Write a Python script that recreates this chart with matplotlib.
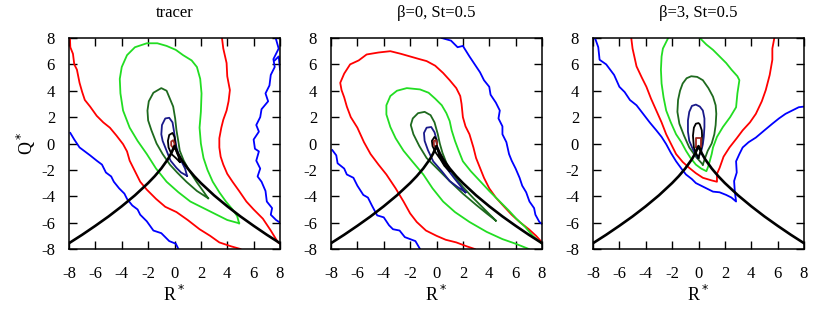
import numpy as np
import matplotlib.pyplot as plt

plt.rcParams['font.family'] = ['Liberation Serif', 'DejaVu Serif']
plt.rcParams['axes.unicode_minus'] = False

# colours of the PDF levels (outer -> inner)
c_blue = '#0000ff'
c_red = '#ff0000'
c_lgreen = '#22dd22'
c_dgreen = '#1e6a1e'
c_navy = '#1a1a8a'
c_black = '#000000'
c_brown = '#a02820'

titles = ['tracer', 'β=0, St=0.5', 'β=3, St=0.5']
ticks = [-8, -6, -4, -2, 0, 2, 4, 6, 8]

# Vieillefosse line, points (same in every panel)
vf_R = [-8, -7, -6, -5, -4, -3, -2, -1.5, -1, -0.5, -0.25, -0.1, 0,
        0.1, 0.25, 0.5, 1, 1.5, 2, 3, 4, 5, 6, 7, 8]
vf_Q = [-7.56, -6.92, -6.24, -5.53, -4.76, -3.93, -3.0, -2.48, -1.89, -1.19, -0.75, -0.41, -0.2,
        -0.41, -0.75, -1.19, -1.89, -2.48, -3.0, -3.93, -4.76, -5.53, -6.24, -6.92, -7.56]

# ---- tracer : contours read as (R*, Q*) points
tr_blue_l = [(-7.9, 0.8), (-7.6, 0.3), (-7.2, -0.3), (-6.8, -0.6), (-6.4, -0.9), (-5.9, -1.3),
             (-5.5, -1.6), (-5.2, -2.2), (-4.8, -2.5), (-4.6, -2.9), (-4.2, -3.4), (-3.8, -3.8),
             (-3.6, -4.2), (-3.2, -4.7), (-2.8, -5.0), (-2.6, -5.4), (-2.1, -5.9), (-1.6, -6.6),
             (-1.0, -6.8), (-0.4, -7.4), (0.1, -7.6), (0.3, -8.0)]
tr_blue_r = [(7.7, 7.9), (7.9, 7.2), (7.5, 6.4), (7.6, 5.8), (7.3, 5.2), (7.2, 4.4), (6.9, 3.8),
             (7.1, 3.2), (6.6, 2.6), (6.5, 2.0), (6.2, 1.4), (6.4, 0.9), (6.0, 0.3), (6.1, -0.4),
             (6.4, -0.6), (6.2, -1.3), (6.5, -1.9), (6.3, -2.5), (6.6, -2.9), (6.9, -3.6),
             (7.0, -4.4), (7.4, -4.9), (7.3, -5.4), (7.7, -5.8), (8.0, -6.0)]
tr_blue_r2 = [(7.6, 6.3), (7.9, 6.6), (8.0, 5.6)]
tr_red_l = [(-7.93, 8.0), (-7.9, 7.3), (-7.7, 6.8), (-7.6, 6.0), (-7.4, 5.6), (-7.2, 4.6),
            (-7.0, 3.9), (-6.8, 3.3), (-6.4, 2.8), (-5.9, 2.1), (-5.4, 1.6), (-4.9, 1.2),
            (-4.4, 0.6), (-3.9, -0.05), (-3.6, -0.6), (-3.4, -1.3), (-3.0, -2.1), (-2.6, -2.9),
            (-2.1, -3.5), (-1.4, -4.2), (-0.7, -4.8), (0.15, -5.2), (1.0, -5.8), (1.9, -6.5),
            (2.7, -7.0), (3.4, -7.5), (4.3, -7.8), (5.0, -8.0)]
tr_red_r = [(3.6, 8.0), (3.7, 7.2), (3.95, 6.1), (4.0, 5.1), (4.2, 4.05), (4.1, 3.2), (3.95, 2.5),
            (3.7, 1.8), (3.55, 1.2), (3.4, 0.4), (3.4, -0.3), (3.5, -1.0), (3.7, -1.6),
            (4.0, -2.3), (4.4, -2.9), (4.9, -3.6), (5.45, -4.4), (6.0, -5.0), (6.7, -5.7),
            (7.3, -6.6), (7.85, -7.5), (8.0, -7.6)]
tr_lgreen = [(4.9, -6.05), (4.0, -5.8), (3.2, -5.4), (2.2, -4.9), (1.2, -4.4), (0.3, -3.7),
             (-0.6, -2.9), (-1.4, -1.9), (-2.1, -0.8), (-2.8, 0.2), (-3.4, 1.2), (-3.9, 2.5),
             (-4.1, 3.8), (-4.15, 4.9), (-4.0, 5.8), (-3.6, 6.7), (-3.0, 7.3), (-2.1, 7.6),
             (-1.3, 7.6), (-0.6, 7.4), (0.1, 7.1), (0.65, 6.7), (1.3, 6.3), (1.7, 5.8),
             (1.95, 4.9), (2.05, 3.8), (2.0, 2.4), (1.9, 1.2), (2.0, 0.0), (2.2, -1.1),
             (2.5, -2.0), (2.9, -2.9), (3.4, -3.7), (3.9, -4.4), (4.4, -5.0), (4.75, -5.5),
             (4.9, -6.05)]
tr_dgreen = [(2.55, -4.15), (1.7, -3.6), (0.9, -2.9), (0.2, -2.2), (-0.35, -1.6), (-0.9, -0.8),
             (-1.36, 0.0), (-1.75, 1.0), (-2.0, 1.75), (-2.05, 2.5), (-1.95, 3.2), (-1.6, 3.85),
             (-1.0, 4.2), (-0.6, 4.0), (-0.35, 3.4), (-0.1, 2.8), (0.05, 1.9), (0.15, 1.0),
             (0.3, 0.1), (0.4, -0.55), (0.7, -1.3), (1.15, -2.1), (1.7, -2.95), (2.2, -3.65),
             (2.55, -4.15)]
tr_navy = [(0.95, -2.45), (0.5, -2.2), (0.15, -1.85), (-0.3, -1.3), (-0.6, -0.55), (-0.9, 0.2),
           (-1.0, 0.7), (-0.95, 1.4), (-0.7, 1.9), (-0.4, 1.95), (-0.15, 1.6), (-0.05, 1.0),
           (0.03, 0.45), (0.15, -0.3), (0.3, -0.8), (0.55, -1.4), (0.8, -1.9), (0.95, -2.45)]
tr_black = [(0.4, -1.4), (0.1, -1.1), (-0.23, -0.8), (-0.45, -0.3), (-0.5, 0.2), (-0.4, 0.65),
            (-0.15, 0.8), (0.0, 0.5), (0.05, 0.0), (0.15, -0.6), (0.3, -1.0), (0.4, -1.4)]
tr_brown = [(-0.05, -0.4), (-0.25, -0.15), (-0.25, 0.15), (-0.1, 0.25), (0.0, 0.0), (-0.05, -0.4)]

# ---- beta=0, St=0.5
b0_blue_l = [(-7.9, -0.5), (-7.6, -0.9), (-7.5, -1.5), (-7.0, -1.9), (-6.8, -2.35), (-6.3, -2.6),
             (-6.0, -3.2), (-5.55, -3.9), (-5.2, -4.1), (-4.9, -4.7), (-4.5, -5.45), (-4.0, -5.6),
             (-3.6, -6.2), (-3.3, -6.5), (-2.8, -6.6), (-2.4, -7.1), (-2.0, -7.25), (-1.6, -7.4),
             (-1.25, -8.0)]
b0_blue_r = [(0.4, 8.0), (1.1, 7.8), (1.6, 7.3), (2.0, 7.4), (2.5, 6.6), (3.0, 5.85), (3.3, 5.4),
             (3.6, 4.8), (4.0, 4.3), (4.1, 3.7), (4.5, 3.1), (4.8, 2.5), (4.7, 1.9), (5.0, 1.3),
             (5.0, 0.7), (5.3, 0.1), (5.5, -0.8), (5.7, -1.3), (6.0, -1.9), (6.3, -2.6),
             (6.5, -3.2), (6.8, -3.7), (7.05, -4.4), (7.4, -4.9), (7.5, -5.4), (7.8, -5.95),
             (8.0, -6.1)]
b0_red = [(2.9, -8.0), (2.3, -7.8), (1.5, -7.5), (0.7, -7.3), (0.0, -7.0), (-0.8, -6.6),
          (-1.5, -5.95), (-2.0, -5.3), (-2.5, -4.4), (-3.1, -3.4), (-3.8, -2.35), (-4.4, -1.6),
          (-5.0, -0.8), (-5.5, 0.1), (-6.0, 1.2), (-6.5, 2.0), (-6.8, 2.8), (-7.0, 3.5),
          (-7.2, 4.05), (-7.3, 4.6), (-7.0, 5.3), (-6.55, 6.0), (-5.9, 6.3), (-5.3, 6.75),
          (-4.4, 6.9), (-3.5, 7.0), (-2.7, 6.8), (-2.0, 6.6), (-1.3, 6.4), (-0.75, 6.25),
          (-0.1, 5.9), (0.5, 5.35), (1.0, 4.8), (1.5, 4.2), (1.8, 3.6), (1.9, 3.0), (2.0, 2.0),
          (2.2, 1.3), (2.5, 0.7), (2.8, -0.3), (3.0, -1.1), (3.3, -1.85), (3.6, -2.6),
          (4.0, -3.4), (4.5, -4.1), (5.0, -4.65), (5.7, -5.4), (6.3, -5.95), (7.0, -6.5),
          (7.55, -7.0), (8.0, -7.5)]
b0_lgreen = [(7.0, -8.0), (6.0, -7.6), (5.0, -7.25), (3.8, -6.7), (2.5, -5.95), (1.4, -5.2),
             (0.5, -4.4), (-0.3, -3.4), (-1.0, -2.35), (-1.8, -1.4), (-2.5, -0.55), (-3.1, 0.4),
             (-3.5, 1.25), (-3.8, 2.2), (-3.8, 2.9), (-3.5, 3.6), (-3.0, 4.0), (-2.25, 4.2),
             (-1.25, 4.1), (-0.6, 3.85), (-0.1, 3.4), (0.4, 2.9), (0.75, 2.3), (1.0, 1.7),
             (1.15, 1.0), (1.4, 0.2), (1.7, -0.6), (2.0, -1.35), (2.6, -2.1), (3.3, -2.85),
             (4.0, -3.6), (4.8, -4.4), (5.5, -5.1), (6.05, -5.7), (6.7, -6.3), (7.3, -7.0),
             (8.0, -7.6)]
b0_dgreen = [(4.5, -5.85), (3.8, -5.3), (3.0, -4.65), (2.0, -3.8), (1.0, -2.85), (0.1, -1.95),
             (-0.75, -1.1), (-1.3, -0.2), (-1.75, 0.7), (-1.95, 1.4), (-1.8, 1.9), (-1.4, 2.3),
             (-0.9, 2.4), (-0.45, 2.15), (-0.15, 1.6), (0.1, 0.7), (0.25, 0.0), (0.45, -0.7),
             (0.8, -1.6), (1.25, -2.35), (2.0, -3.3), (2.8, -4.15), (3.6, -4.95), (4.5, -5.85)]
b0_navy = [(2.2, -3.7), (1.6, -3.3), (1.0, -2.85), (0.4, -2.1), (-0.25, -1.35), (-0.65, -0.5),
           (-0.9, 0.2), (-0.95, 0.8), (-0.75, 1.2), (-0.4, 1.25), (-0.15, 0.85), (0.0, 0.3),
           (0.05, -0.3), (0.3, -1.1), (0.75, -1.85), (1.4, -2.7), (2.2, -3.7)]
b0_black = [(1.0, -2.1), (0.6, -1.7), (0.3, -1.2), (-0.05, -0.7), (-0.3, -0.2), (-0.35, 0.2),
            (-0.15, 0.5), (0.0, 0.3), (0.05, -0.4), (0.25, -0.95), (0.6, -1.55), (1.0, -2.1)]
b0_brown = [(-0.05, -0.35), (-0.2, -0.1), (-0.2, 0.2), (-0.05, 0.25), (0.05, 0.0), (-0.05, -0.35)]

# ---- beta=3, St=0.5
b3_blue = [(-7.85, 8.0), (-7.6, 7.3), (-7.5, 6.35), (-7.0, 6.0), (-6.7, 5.6), (-6.4, 5.2),
           (-6.0, 4.3), (-5.6, 3.9), (-5.2, 3.3), (-4.7, 2.9), (-4.2, 2.25), (-3.7, 1.6),
           (-3.2, 1.0), (-2.8, 0.5), (-2.45, -0.05), (-2.1, -0.7), (-1.7, -1.35), (-1.3, -1.9),
           (-0.95, -2.35), (-0.5, -2.7), (-0.2, -3.0), (0.4, -3.3), (1.1, -3.65), (1.6, -3.7),
           (2.1, -3.9), (2.5, -4.1), (2.85, -4.4), (2.75, -3.6), (2.7, -2.85), (2.9, -2.2),
           (2.85, -1.35), (3.1, -0.8), (3.35, -0.3), (3.8, 0.1), (4.35, 0.45), (5.0, 1.0),
           (5.6, 1.5), (6.1, 1.9), (6.6, 2.25), (7.1, 2.5), (7.6, 2.75), (8.0, 2.8)]
b3_red = [(-5.1, 8.0), (-5.0, 7.2), (-4.7, 5.85), (-4.3, 5.0), (-3.95, 4.3), (-3.6, 3.4),
          (-3.2, 2.5), (-2.8, 1.6), (-2.45, 0.7), (-2.1, 0.0), (-1.7, -0.8), (-1.2, -1.4),
          (-0.7, -1.85), (-0.2, -2.25), (0.33, -2.6), (1.0, -2.8), (1.4, -2.9), (1.4, -2.3),
          (1.6, -1.85), (1.9, -1.0), (2.35, -0.3), (2.9, 0.4), (3.35, 1.0), (3.9, 1.6),
          (4.35, 2.25), (4.8, 3.2), (5.1, 4.05), (5.4, 5.2), (5.6, 6.35), (5.6, 7.2),
          (5.75, 8.0)]
b3_lgreen = [(-2.3, 8.0), (-2.7, 7.2), (-2.8, 6.6), (-2.85, 5.6), (-2.8, 4.55), (-2.65, 3.5),
             (-2.45, 2.5), (-2.1, 1.6), (-1.7, 0.7), (-1.3, 0.1), (-0.95, -0.55), (-0.6, -1.1),
             (-0.2, -1.6), (0.2, -1.9), (0.6, -2.1), (0.75, -1.7), (0.85, -1.35), (1.0, -0.8),
             (1.1, -0.3), (1.4, 0.5), (1.85, 1.25), (2.4, 2.0), (2.85, 2.75), (2.95, 3.8),
             (3.1, 4.8), (2.95, 5.1), (2.5, 5.6), (2.1, 6.1), (1.6, 6.6), (1.1, 7.1),
             (0.6, 7.5), (0.1, 8.0)]
b3_dgreen = [(0.33, -1.6), (-0.2, -1.0), (-0.7, -0.3), (-1.1, 0.6), (-1.45, 1.5), (-1.6, 2.4),
             (-1.55, 3.3), (-1.4, 4.0), (-1.2, 4.55), (-0.9, 4.95), (-0.55, 5.1), (-0.1, 5.05),
             (0.33, 4.8), (0.75, 4.2), (1.1, 3.55), (1.3, 2.9), (1.35, 2.25), (1.3, 1.4),
             (1.2, 0.7), (1.0, 0.0), (0.7, -0.55), (0.5, -1.1), (0.33, -1.6)]
b3_navy = [(-0.05, -1.1), (-0.4, -0.5), (-0.7, 0.2), (-0.8, 0.9), (-0.8, 1.75), (-0.7, 2.4),
           (-0.5, 2.85), (-0.2, 2.95), (0.1, 2.8), (0.33, 2.5), (0.45, 1.9), (0.45, 1.25),
           (0.4, 0.5), (0.33, -0.05), (0.2, -0.6), (-0.05, -1.1)]
b3_black = [(0.0, -1.1), (-0.2, -0.7), (-0.35, -0.3), (-0.42, 0.6), (-0.35, 1.2), (-0.2, 1.5),
            (0.0, 1.55), (0.1, 1.45), (0.25, 1.0), (0.27, 0.6), (0.2, -0.4), (0.0, -1.1)]
b3_brown = [(-0.2, -0.3), (-0.2, 0.4), (0.2, 0.4), (0.2, -0.3), (-0.2, -0.3)]

panel_contours = [
    [(tr_blue_l, c_blue), (tr_blue_r, c_blue), (tr_blue_r2, c_blue), (tr_red_l, c_red),
     (tr_red_r, c_red), (tr_lgreen, c_lgreen), (tr_dgreen, c_dgreen), (tr_navy, c_navy),
     (tr_black, c_black), (tr_brown, c_brown)],
    [(b0_blue_l, c_blue), (b0_blue_r, c_blue), (b0_red, c_red), (b0_lgreen, c_lgreen),
     (b0_dgreen, c_dgreen), (b0_navy, c_navy), (b0_black, c_black), (b0_brown, c_brown)],
    [(b3_blue, c_blue), (b3_red, c_red), (b3_lgreen, c_lgreen), (b3_dgreen, c_dgreen),
     (b3_navy, c_navy), (b3_black, c_black), (b3_brown, c_brown)],
]

fig = plt.figure(figsize=(8.30, 3.17), dpi=100)
lefts = [69, 331, 593]

for i, left in enumerate(lefts):
    ax = fig.add_axes([left / 830, 68 / 317, 211 / 830, 211 / 317])
    for pts, col in panel_contours[i]:
        pts = np.array(pts)
        ax.plot(pts[:, 0], pts[:, 1], color=col, lw=1.3, solid_joinstyle='round')
    ax.plot(vf_R, vf_Q, color='black', lw=1.9, solid_joinstyle='round')
    ax.set_xlim(-8, 8)
    ax.set_ylim(-8, 8)
    ax.set_xticks(ticks)
    ax.set_yticks(ticks)
    ax.tick_params(direction='in', top=True, right=True, length=6, width=1.0, labelsize=12)
    ax.tick_params(axis='x', pad=12)
    ax.tick_params(axis='y', pad=10)
    for s in ax.spines.values():
        s.set_linewidth(1.1)
    ax.text(0.5, 1.12, titles[i], transform=ax.transAxes, ha='center', va='center', fontsize=12)
    ax.text(0.5, -0.22, 'R$^*$', transform=ax.transAxes, ha='center', va='center', fontsize=13)
    if i == 0:
        ax.text(-0.2, 0.5, 'Q$^*$', transform=ax.transAxes, ha='center', va='center',
                fontsize=13, rotation=90)

fig.savefig('out.png', dpi=100)
